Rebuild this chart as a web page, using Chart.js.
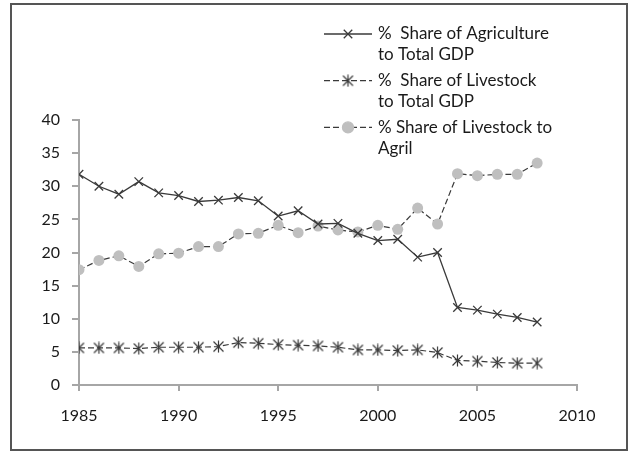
<!DOCTYPE html>
<html>
<head>
<meta charset="utf-8">
<script src="https://cdn.jsdelivr.net/npm/chart.js@4/dist/chart.umd.min.js"></script>
<style>
  html, body { margin: 0; padding: 0; background: #fff; }
  #wrap { position: relative; width: 629px; height: 453px; }
</style>
</head>
<body>
<div id="wrap"><canvas id="c" width="629" height="453"></canvas></div>
<script>
const years = [1985, 1986, 1987, 1988, 1989, 1990, 1991, 1992, 1993, 1994, 1995, 1996,
  1997, 1998, 1999, 2000, 2001, 2002, 2003, 2004, 2005, 2006, 2007, 2008];

const agriShareGdp = [31.8, 30.0, 28.8, 30.7, 29.0, 28.6, 27.7, 27.9, 28.3, 27.8, 25.5, 26.3,
  24.3, 24.4, 22.9, 21.8, 22.0, 19.3, 20.0, 11.7, 11.3, 10.7, 10.2, 9.5];

const livestockShareGdp = [5.6, 5.6, 5.6, 5.5, 5.7, 5.7, 5.7, 5.8, 6.4, 6.3, 6.1, 6.0,
  5.9, 5.7, 5.3, 5.3, 5.2, 5.3, 4.9, 3.7, 3.6, 3.4, 3.3, 3.3];

const livestockShareAgri = [17.4, 18.8, 19.5, 17.9, 19.8, 19.9, 20.9, 20.9, 22.8, 22.9, 24.1, 23.0,
  24.0, 23.4, 23.1, 24.1, 23.5, 26.7, 24.3, 31.9, 31.6, 31.8, 31.8, 33.5];

const seriesLabels = [
  ['%  Share of Agriculture', 'to Total GDP'],
  ['%  Share of Livestock', 'to Total GDP'],
  ['% Share of Livestock to', 'Agril']
];

const xTicks = [1985, 1990, 1995, 2000, 2005, 2010];
const yTicks = [0, 5, 10, 15, 20, 25, 30, 35, 40];

const FONT = 'Lato, "Open Sans", sans-serif';
const INK = '#3a3a3a';
const AXIS = '#a6a6a6';
const TEXT = '#1a1a1a';

// Excel-style star marker: an X with a vertical stroke through it
function starMarker(size) {
  const cv = document.createElement('canvas');
  cv.width = size; cv.height = size;
  const g = cv.getContext('2d');
  const c = size / 2, r = size / 2 - 1.5;
  g.strokeStyle = INK;
  g.lineWidth = 1.2;
  g.beginPath();
  g.moveTo(c - r, c - r); g.lineTo(c + r, c + r);
  g.moveTo(c + r, c - r); g.lineTo(c - r, c + r);
  g.moveTo(c, c - r - 1); g.lineTo(c, c + r + 1);
  g.stroke();
  return cv;
}
const star = starMarker(13);

const toPoints = vals => vals.map((v, i) => ({ x: years[i], y: v }));

// frame around the whole figure
const framePlugin = {
  id: 'frame',
  afterDraw(chart) {
    const ctx = chart.ctx;
    ctx.save();
    ctx.strokeStyle = '#555';
    ctx.lineWidth = 2;
    ctx.strokeRect(11, 4, 616, 446);
    ctx.restore();
  }
};

// two-line legend entries drawn inside the plot
const legendPlugin = {
  id: 'wrapLegend',
  afterDraw(chart) {
    const ctx = chart.ctx;
    const x0 = 324, x1 = 372, tx = 378;
    const y0 = 34, step = 46.7, lh = 21;
    ctx.save();
    chart.data.datasets.forEach((ds, i) => {
      const y = y0 + i * step;
      ctx.strokeStyle = ds.borderColor;
      ctx.lineWidth = ds.borderWidth;
      ctx.setLineDash(ds.borderDash || []);
      ctx.beginPath();
      ctx.moveTo(x0, y); ctx.lineTo(x1, y);
      ctx.stroke();
      ctx.setLineDash([]);
      ctx.fillStyle = ds.pointBackgroundColor || ds.borderColor;
      ctx.strokeStyle = ds.pointBorderColor || ds.borderColor;
      ctx.lineWidth = ds.pointBorderWidth || 1.3;
      Chart.helpers.drawPoint(ctx, {
        pointStyle: ds.pointStyle, radius: ds.pointRadius, rotation: 0, borderWidth: ctx.lineWidth
      }, (x0 + x1) / 2, y);
      ctx.fillStyle = TEXT;
      ctx.font = '17px ' + FONT;
      ctx.textBaseline = 'middle';
      ctx.textAlign = 'left';
      seriesLabels[i].forEach((t, k) => ctx.fillText(t, tx, y + k * lh));
    });
    ctx.restore();
  }
};

new Chart(document.getElementById('c'), {
  type: 'line',
  data: {
    datasets: [
      {
        label: seriesLabels[0].join(' '),
        data: toPoints(agriShareGdp),
        borderColor: INK,
        borderWidth: 1.3,
        pointStyle: 'crossRot',
        pointRadius: 6,
        pointBorderColor: INK,
        pointBorderWidth: 1.3,
        pointBackgroundColor: INK
      },
      {
        label: seriesLabels[1].join(' '),
        data: toPoints(livestockShareGdp),
        borderColor: INK,
        borderWidth: 1.2,
        borderDash: [6, 3],
        pointStyle: star,
        pointRadius: 6,
        pointBorderColor: INK,
        pointBackgroundColor: INK
      },
      {
        label: seriesLabels[2].join(' '),
        data: toPoints(livestockShareAgri),
        borderColor: INK,
        borderWidth: 1.2,
        borderDash: [6, 3],
        pointStyle: 'circle',
        pointRadius: 5.5,
        pointBorderWidth: 0,
        pointBorderColor: '#bfbfbf',
        pointBackgroundColor: '#bfbfbf'
      }
    ]
  },
  options: {
    responsive: false,
    animation: false,
    layout: { padding: { left: 0, top: 120, right: 52, bottom: 0 } },
    plugins: { legend: { display: false }, tooltip: { enabled: false } },
    scales: {
      x: {
        type: 'linear',
        min: xTicks[0],
        max: xTicks[xTicks.length - 1],
        afterBuildTicks: s => { s.ticks = xTicks.map(v => ({ value: v })); },
        afterFit: s => { s.height = 68; },
        grid: { drawOnChartArea: false, drawTicks: true, tickLength: 6, color: AXIS, lineWidth: 2 },
        border: { display: true, color: AXIS, width: 2 },
        ticks: {
          padding: 15,
          color: TEXT,
          font: { family: FONT, size: 16 },
          callback: v => String(v),
          maxRotation: 0
        }
      },
      y: {
        min: 0,
        max: 40,
        afterBuildTicks: s => { s.ticks = yTicks.map(v => ({ value: v })); },
        afterFit: s => { s.width = 79; },
        grid: { drawOnChartArea: false, drawTicks: true, tickLength: 7, color: AXIS, lineWidth: 2 },
        border: { display: true, color: AXIS, width: 2 },
        ticks: {
          padding: 12,
          color: TEXT,
          font: { family: FONT, size: 16 }
        }
      }
    }
  },
  plugins: [framePlugin, legendPlugin]
});
</script>
</body>
</html>
